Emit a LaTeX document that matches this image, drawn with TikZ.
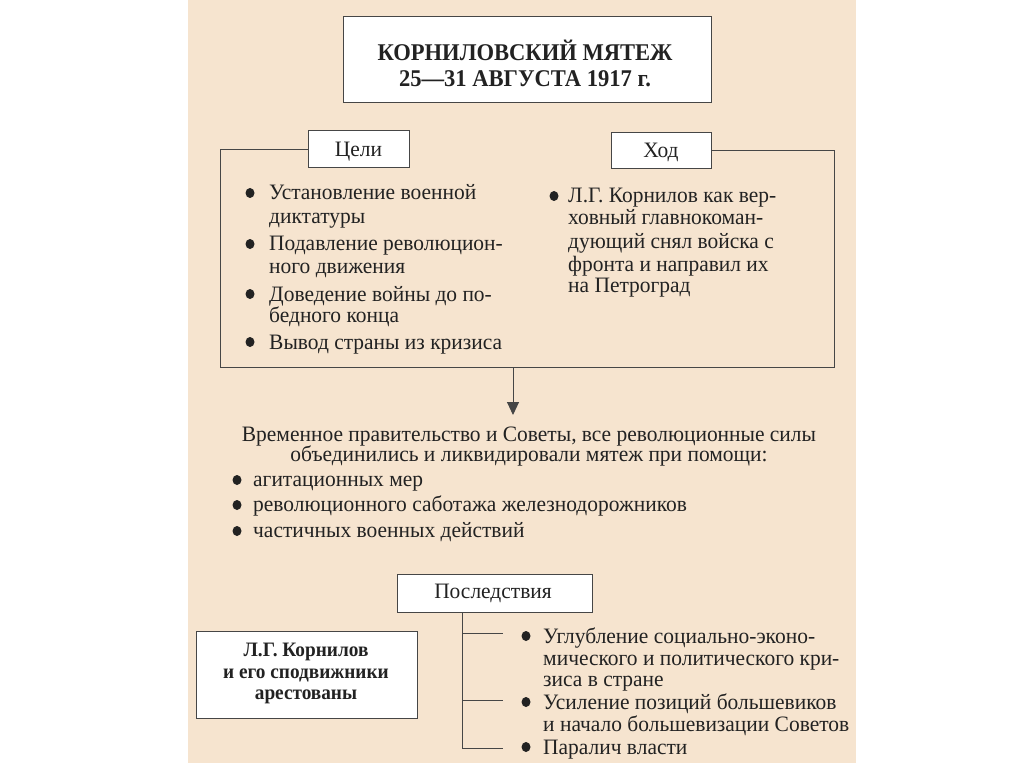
\documentclass[tikz,border=0pt]{standalone}
\usepackage{fontspec}
\setmainfont{Liberation Serif}[FakeStretch=0.975]
\newfontfamily\titlefont{Liberation Serif}[FakeStretch=0.94]
\usetikzlibrary{arrows.meta,shapes.geometric}
\definecolor{bg}{HTML}{F6E4CF}
\definecolor{ink}{HTML}{222222}
\definecolor{edge}{HTML}{464646}
\begin{document}
\begin{tikzpicture}[x=1pt,y=-1pt,
  txt/.style={anchor=base west, inner sep=0pt, text=ink, font=\fontsize{22}{24}\selectfont},
  ctxt/.style={anchor=base, inner sep=0pt, text=ink, font=\fontsize{22}{24}\selectfont},
  btxt/.style={anchor=base, inner sep=0pt, text=ink, font=\titlefont\fontsize{20.5}{23}\selectfont\bfseries},
  ttxt/.style={anchor=base, inner sep=0pt, text=ink, font=\titlefont\fontsize{24}{26}\selectfont\bfseries},
  boxed/.style={draw=edge, line width=1pt, fill=white, inner sep=0pt},
  dot/.style={ellipse, fill=ink, inner sep=0pt, minimum width=9pt, minimum height=10pt},
  conn/.style={draw=edge, line width=1pt}]
\useasboundingbox (0,0) rectangle (1024,767);
\fill[white] (0,0) rectangle (1024,767);
\fill[bg] (188,0) rectangle (856,763);

% title
\node[boxed, minimum width=368pt, minimum height=86pt] (title) at (527,60) {};
\node[ttxt] (t1) at (525,61) {КОРНИЛОВСКИЙ МЯТЕЖ};
\node[ttxt] (t2) at (525,87) {25—31 АВГУСТА 1917 г.};

% goals / course
\node[boxed, minimum width=101pt, minimum height=37pt] (goals) at (358.5,149.5) {};
\node[ctxt] (goalsT) at (358.5,157) {Цели};
\node[boxed, minimum width=100pt, minimum height=36pt] (course) at (661,151) {};
\node[ctxt] (courseT) at (661,158) {Ход};
\coordinate (fr1) at (834,151);
\coordinate (fr2) at (834,367);
\coordinate (fr3) at (220,367);
\coordinate (fr4) at (220,149.5);
\draw[conn] (course.east) -- (fr1) -- (fr2) -- (fr3) -- (fr4) -- (goals.west);

\node[dot] (gb1) at (250,193) {};
\node[txt] (g1a) at (269,200) {Установление военной};
\node[txt] (g1b) at (269,224) {диктатуры};
\node[dot] (gb2) at (250,244) {};
\node[txt] (g2a) at (269,251) {Подавление революцион-};
\node[txt] (g2b) at (269,273) {ного движения};
\node[dot] (gb3) at (250,294) {};
\node[txt] (g3a) at (269,301) {Доведение войны до по-};
\node[txt] (g3b) at (269,322) {бедного конца};
\node[dot] (gb4) at (250,342) {};
\node[txt] (g4a) at (269,349) {Вывод страны из кризиса};

\node[dot] (cb1) at (554,196) {};
\node[txt] (c1a) at (568,203) {Л.Г. Корнилов как вер-};
\node[txt] (c1b) at (568,225) {ховный главнокоман-};
\node[txt] (c1c) at (568,248) {дующий снял войска с};
\node[txt] (c1d) at (568,271) {фронта и направил их};
\node[txt] (c1e) at (568,292) {на Петроград};

% arrow
\coordinate (arrStart) at (513,367);
\coordinate (arrEnd) at (513,415);
\draw[conn, -{Triangle[length=13pt,width=12pt]}] (arrStart) -- (arrEnd);

% middle text
\node[ctxt] (m1) at (529,441) {Временное правительство и Советы, все революционные силы};
\node[ctxt] (m2) at (529,461) {объединились и ликвидировали мятеж при помощи:};
\node[dot] (mb1) at (237,480) {};
\node[txt] (m3) at (253,486) {агитационных мер};
\node[dot] (mb2) at (237,505) {};
\node[txt] (m4) at (253,511) {революционного саботажа железнодорожников};
\node[dot] (mb3) at (237,531) {};
\node[txt] (m5) at (253,537) {частичных военных действий};

% consequences
\node[boxed, minimum width=195pt, minimum height=38pt] (cons) at (494.5,593) {};
\node[ctxt] (consT) at (493,598) {Последствия};
\node[boxed, minimum width=221pt, minimum height=87pt] (arrest) at (306.5,674.5) {};
\node[btxt] (a1) at (306,656) {Л.Г. Корнилов};
\node[btxt] (a2) at (306,678) {и его сподвижники};
\node[btxt] (a3) at (306,699) {арестованы};

\coordinate (v1) at (462,633);
\coordinate (v2) at (462,700);
\coordinate (v3) at (462,748);
\coordinate (h1) at (503,633);
\coordinate (h2) at (503,700);
\coordinate (h3) at (503,748);
\draw[conn] (cons.south -| v1) -- (v3);
\draw[conn] (v1) -- (h1);
\draw[conn] (v2) -- (h2);
\draw[conn] (v3) -- (h3);

\node[dot] (rb1) at (526,636) {};
\node[txt] (r1a) at (543,643) {Углубление социально-эконо-};
\node[txt] (r1b) at (543,665) {мического и политического кри-};
\node[txt] (r1c) at (543,686) {зиса в стране};
\node[dot] (rb2) at (526,702) {};
\node[txt] (r2a) at (543,709) {Усиление позиций большевиков};
\node[txt] (r2b) at (543,731) {и начало большевизации Советов};
\node[dot] (rb3) at (526,747) {};
\node[txt] (r3a) at (543,754) {Паралич власти};
\end{tikzpicture}
\end{document}
